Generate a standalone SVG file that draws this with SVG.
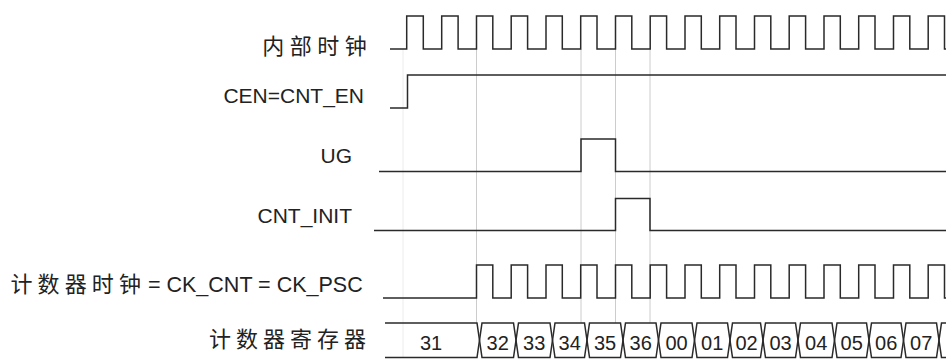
<svg xmlns="http://www.w3.org/2000/svg" width="946" height="359" viewBox="0 0 946 359">
<style>
.w{fill:none;stroke:#2a2a2a;stroke-width:1.5;stroke-linejoin:miter}
.g{stroke:#cccccc;stroke-width:1}
.gf{stroke:#ececec;stroke-width:1}
.lat{font-family:"Liberation Sans",Arial,sans-serif;font-size:21px;fill:#222}
.cjk{font-family:"Noto Sans CJK SC","Noto Sans",sans-serif;font-size:22px;fill:#222}
.num{font-family:"Liberation Sans",Arial,sans-serif;font-size:20px;fill:#222;text-anchor:middle}
</style>
<rect width="946" height="359" fill="#fff"/>
<g id="gridlines">
<line class="gf" x1="403" y1="49" x2="403" y2="358"/>
<line class="g" x1="476.5" y1="49" x2="476.5" y2="323"/>
<line class="g" x1="581" y1="49" x2="581" y2="323"/>
<line class="g" x1="615.5" y1="49" x2="615.5" y2="323"/>
<line class="g" x1="650" y1="49" x2="650" y2="323"/>
</g>
<g id="internal-clock">
<text class="cjk" x="262.3" y="53.5" letter-spacing="5.5">内部时钟</text>
<path class="w" d="M390,49 H406.7 V16 H423.3 V49 H441.7 V16 H458.1 V49 H476.5 V16 H492.8 V49 H511.2 V16 H527.6 V49 H546 V16 H562.3 V49 H580.7 V16 H597 V49 H615.5 V16 H631.8 V49 H650.2 V16 H666.6 V49 H685 V16 H701.3 V49 H719.7 V16 H736 V49 H754.5 V16 H770.8 V49 H789.2 V16 H805.6 V49 H824 V16 H840.3 V49 H858.7 V16 H875 V49 H893.5 V16 H909.8 V49 H928.2 V16 H944.5 V49 H946"/>
</g>
<g id="cen">
<text class="lat" x="364" y="103" text-anchor="end">CEN=CNT_EN</text>
<path class="w" d="M390,108 H407.5 V75 H946"/>
</g>
<g id="ug">
<text class="lat" x="352" y="163" text-anchor="end">UG</text>
<path class="w" d="M379,171.5 H581 V139 H615.5 V171.5 H946"/>
</g>
<g id="cnt-init">
<text class="lat" x="352" y="223" text-anchor="end">CNT_INIT</text>
<path class="w" d="M374,230.5 H615.5 V198.5 H650 V230.5 H946"/>
</g>
<g id="counter-clock">
<text x="10.5" y="291.5"><tspan class="cjk" letter-spacing="5.1">计数器时钟</tspan><tspan class="lat" x="142" style="font-size:21.5px"> = CK_CNT = CK_PSC</tspan></text>
<path class="w" d="M383,298 H476.5 V265 H492.8 V298 H511.2 V265 H527.6 V298 H546 V265 H562.3 V298 H580.7 V265 H597 V298 H615.5 V265 H631.8 V298 H650.2 V265 H666.6 V298 H685 V265 H701.3 V298 H719.7 V265 H736 V298 H754.5 V265 H770.8 V298 H789.2 V265 H805.6 V298 H824 V265 H840.3 V298 H858.7 V265 H875 V298 H893.5 V265 H909.8 V298 H928.2 V265 H944.5 V298 H946"/>
</g>
<g id="counter-register">
<text class="cjk" x="209" y="346.5" letter-spacing="5">计数器寄存器</text>
<path class="w" d="M385,323 H477 L482,357.5 H513.5 L518.5,323 H550 L555,357.5 H584.5 L589.5,323 H620.5 L625.5,357.5 H656 L661,323 H692 L697,357.5 H727.5 L732.5,323 H760.5 L765.5,357.5 H795.5 L800.5,323 H832 L837,357.5 H866.5 L871.5,323 H901 L906,357.5 H936.5 L941.5,323 H946"/>
<path class="w" d="M385,357.5 H477 L482,323 H513.5 L518.5,357.5 H550 L555,323 H584.5 L589.5,357.5 H620.5 L625.5,323 H656 L661,357.5 H692 L697,323 H727.5 L732.5,357.5 H760.5 L765.5,323 H795.5 L800.5,357.5 H832 L837,323 H866.5 L871.5,357.5 H901 L906,323 H936.5 L941.5,357.5 H946"/>
<text class="num" x="431" y="349.5">31</text>
<text class="num" x="497.7" y="349.5">32</text>
<text class="num" x="534.2" y="349.5">33</text>
<text class="num" x="569.7" y="349.5">34</text>
<text class="num" x="605" y="349.5">35</text>
<text class="num" x="640.7" y="349.5">36</text>
<text class="num" x="676.5" y="349.5">00</text>
<text class="num" x="712.2" y="349.5">01</text>
<text class="num" x="746.5" y="349.5">02</text>
<text class="num" x="780.5" y="349.5">03</text>
<text class="num" x="816.2" y="349.5">04</text>
<text class="num" x="851.7" y="349.5">05</text>
<text class="num" x="886.2" y="349.5">06</text>
<text class="num" x="921.2" y="349.5">07</text>
</g>
</svg>
